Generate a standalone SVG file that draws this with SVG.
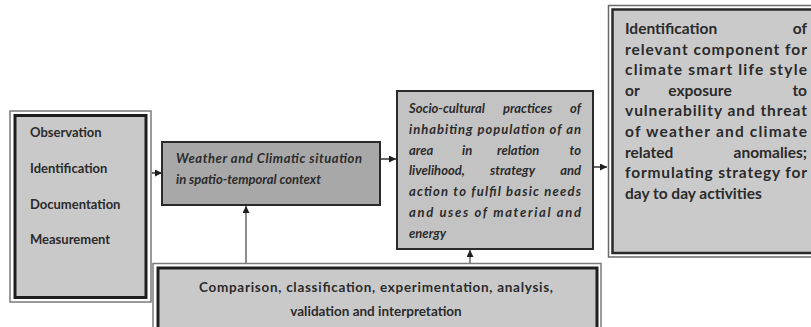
<svg xmlns="http://www.w3.org/2000/svg" width="811" height="327" viewBox="0 0 811 327">
<style>
.t{font-family:Lato,"Open Sans","Liberation Sans",sans-serif;font-weight:bold;fill:#2b2b2b}
.i{font-style:italic}
.s13{font-size:13px}
.s15{font-size:15.5px}
.outer{fill:none;stroke:#7a7a7a;stroke-width:1.5}
.inner{stroke:#1e1e1e;stroke-width:3}
.box{stroke:#2a2a2a;stroke-width:2}
.conn{stroke:#333;stroke-width:1.5;fill:none}
</style>
<defs>
<marker id="ah" viewBox="0 0 10 10" refX="10" refY="5" markerWidth="7" markerHeight="7" markerUnits="userSpaceOnUse" orient="auto">
<path d="M0,0 L10,5 L0,10 z" fill="#1e1e1e"/>
</marker>
</defs>
<rect width="811" height="327" fill="#ffffff"/>

<g id="connectors">
<line class="conn" x1="152" y1="173" x2="162" y2="173" marker-end="url(#ah)"/>
<line class="conn" x1="380" y1="159" x2="396" y2="159" marker-end="url(#ah)"/>
<line class="conn" x1="593" y1="167" x2="607" y2="167" marker-end="url(#ah)"/>
<line class="conn" x1="246" y1="263" x2="246" y2="206" marker-end="url(#ah)" style="stroke:#666"/>
<line class="conn" x1="470" y1="263" x2="470" y2="250" marker-end="url(#ah)" style="stroke:#666"/>
</g>

<g id="node-observation">
<rect class="outer" x="10" y="111" width="141" height="191"/>
<rect class="inner" x="15" y="115.5" width="131" height="182" fill="#c9c9c9"/>
<text class="t s13" x="30" y="137">Observation</text>
<text class="t s13" x="30" y="173">Identification</text>
<text class="t s13" x="30" y="209">Documentation</text>
<text class="t s13" x="30" y="244">Measurement</text>
</g>

<g id="node-weather">
<rect class="box" x="162" y="142" width="218" height="63" fill="#a8a8a8"/>
<text class="t i s13" x="176" y="163" textLength="186" lengthAdjust="spacing">Weather and Climatic situation</text>
<text class="t i s13" x="176" y="184">in spatio-temporal context</text>
</g>

<g id="node-socio">
<rect class="box" x="397" y="91" width="196" height="158" fill="#c3c3c3"/>
<text class="t i s13" x="409" y="113">Socio-cultural</text>
<text class="t i s13" x="503" y="113">practices</text>
<text class="t i s13" x="581" y="113" text-anchor="end">of</text>
<text class="t i s13" x="409" y="133.8" textLength="172" lengthAdjust="spacing">inhabiting population of an</text>
<text class="t i s13" x="409" y="154.6">area</text>
<text class="t i s13" x="462" y="154.6">in</text>
<text class="t i s13" x="497" y="154.6">relation</text>
<text class="t i s13" x="581" y="154.6" text-anchor="end">to</text>
<text class="t i s13" x="409" y="175.4">livelihood,</text>
<text class="t i s13" x="490" y="175.4">strategy</text>
<text class="t i s13" x="581" y="175.4" text-anchor="end">and</text>
<text class="t i s13" x="409" y="196.2" textLength="172" lengthAdjust="spacing">action to fulfil basic needs</text>
<text class="t i s13" x="409" y="217" textLength="172" lengthAdjust="spacing">and uses of material and</text>
<text class="t i s13" x="409" y="237.8">energy</text>
</g>

<g id="node-identification">
<rect x="608.5" y="5.5" width="210" height="251.5" fill="none" stroke="#6a6a6a" stroke-width="1.5"/>
<rect x="612.5" y="9.5" width="205" height="243.5" fill="#cacaca" stroke="#2a2a2a" stroke-width="2.5"/>
<text class="t s15" x="625" y="34">Identification</text>
<text class="t s15" x="807" y="34" text-anchor="end">of</text>
<text class="t s15" x="625" y="54.6" textLength="182" lengthAdjust="spacing">relevant component for</text>
<text class="t s15" x="625" y="75.2" textLength="182" lengthAdjust="spacing">climate smart life style</text>
<text class="t s15" x="625" y="95.8">or</text>
<text class="t s15" x="700" y="95.8" text-anchor="middle">exposure</text>
<text class="t s15" x="807" y="95.8" text-anchor="end">to</text>
<text class="t s15" x="625" y="116.4" textLength="182" lengthAdjust="spacing">vulnerability and threat</text>
<text class="t s15" x="625" y="137" textLength="182" lengthAdjust="spacing">of weather and climate</text>
<text class="t s15" x="625" y="157.6">related</text>
<text class="t s15" x="807" y="157.6" text-anchor="end">anomalies;</text>
<text class="t s15" x="625" y="178.2" textLength="182" lengthAdjust="spacing">formulating strategy for</text>
<text class="t s15" x="625" y="198.8">day to day activities</text>
</g>

<g id="node-comparison">
<rect class="outer" x="153" y="263.5" width="448" height="80"/>
<rect class="inner" x="158" y="268" width="439" height="80" fill="#c9c9c9"/>
<text class="t" font-size="13.5" x="376" y="292" text-anchor="middle" textLength="354" lengthAdjust="spacing">Comparison, classification, experimentation, analysis,</text>
<text class="t" font-size="13.5" x="376" y="316" text-anchor="middle">validation and interpretation</text>
</g>
</svg>
